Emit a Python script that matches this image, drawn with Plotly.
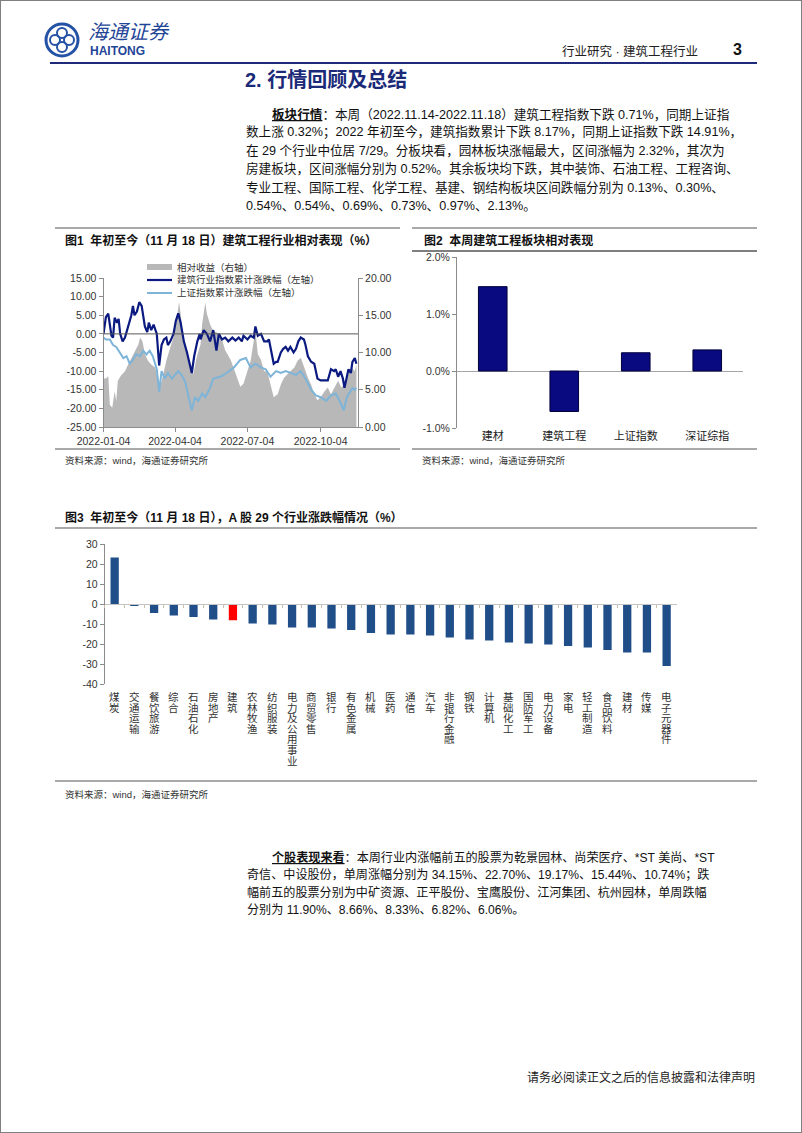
import pandas as pd
import plotly.graph_objects as go

W, H = 802, 1133


def X(px):
    return px / W


def Y(py):
    return 1 - py / H


FONT = "Liberation Sans, Noto Sans CJK SC, sans-serif"

# ---------------- 图1: 建筑工程行业相对表现 ----------------
start = pd.Timestamp("2022-01-04")
# day offsets from 2022-01-04
jz_days = [0, 3, 6, 8, 10, 12, 14, 17, 19, 21,
           24, 27, 31, 35, 37, 39, 42, 45, 48, 50,
           52, 55, 57, 60, 63, 67, 70, 73, 76, 79,
           81, 84, 88, 91, 94, 97, 101, 105, 108, 111,
           114, 118, 121, 122, 126, 130, 134, 138, 142, 145,
           149, 153, 157, 162, 166, 170, 174, 176, 181, 185,
           189, 191, 194, 198, 202, 206, 208, 211, 214, 217,
           219, 223, 226, 229, 232, 235, 239, 242, 245, 248,
           252, 254, 257, 261, 265, 269, 273, 278, 282, 286,
           290, 292, 295, 298, 301, 303, 306, 308, 311, 313,
           316, 318]
jz_vals = [0, 4.5, 5.4, 3, -0.5, -1, 4.3, 3, 4, 0,
           -2, -1, 2, 5, 7.5, 5, 6, 8.5, 7.5, 4,
           2, 0.5, 3, 1, 2.5, 0, -8.5, -3, -1.5, -1,
           -3, -2, 0, 3.5, 5.5, 3, -2, -5, -8, -10.5,
           -6, -2, 0, -1.5, 1, 0, -2, 1, -4.5, 0,
           -1.5, -1, -2, -1, -1.8, -1, -2, -0.5, -1.5, -0.5,
           -1, 2, -0.5, 0, -2, -2, -1.5, -5, -8, -7.5,
           -7.5, -5, -4, -3.5, -4.5, -3.5, -5, -4, -2, -1,
           -1.5, -3, -6, -7.5, -8, -12, -12.5, -12.5, -12.5, -9.5,
           -10, -9.5, -11.5, -10, -12, -14.5, -11, -9.5, -10.5, -7.5,
           -6.5, -8]

sz_days = [0, 3, 8, 12, 16, 20, 25, 29, 33, 37,
           41, 46, 50, 54, 58, 62, 67, 70, 73, 77,
           81, 86, 90, 94, 98, 103, 107, 111, 115, 119,
           124, 128, 134, 138, 147, 155, 164, 172, 179, 185,
           191, 198, 204, 210, 217, 223, 229, 235, 242, 248,
           254, 261, 267, 273, 280, 286, 292, 298, 302, 306,
           310, 313, 316, 318]
sz_vals = [-1, -1.5, -1.5, -3, -3.5, -5, -6.5, -6, -8, -7,
           -5.5, -6, -4.5, -5.5, -4.5, -6, -9.5, -15.5, -10, -12,
           -10.5, -12, -11, -10, -11, -13, -17, -20.5, -17, -18,
           -16, -17, -14.5, -12, -11.5, -10.5, -9, -7, -6.5, -9,
           -8, -9, -9.5, -11.5, -10, -10.5, -10, -10.5, -11, -10,
           -12, -15, -16.5, -17, -18, -16.5, -16, -18.5, -20.5, -17,
           -15.5, -14.5, -15, -14.5]

rel_days = [0, 3, 6, 8, 11, 14, 16, 18, 22, 27,
            31, 35, 39, 44, 46, 49, 52, 56, 60, 65,
            69, 71, 75, 79, 84, 88, 92, 95, 97, 100,
            105, 109, 113, 117, 122, 124, 126, 128, 130, 134,
            138, 147, 153, 160, 166, 172, 176, 181, 185, 189,
            191, 194, 198, 202, 206, 210, 214, 219, 223, 227,
            231, 235, 240, 244, 248, 252, 257, 261, 265, 269,
            273, 278, 282, 286, 290, 295, 299, 303, 308, 312,
            316, 318]
rel_vals = [6.5, 6.5, 6.8, 3, 2.6, 4.8, 3.5, 6.2, 6.9, 7.5,
            8.4, 9.3, 10.2, 11.1, 12, 11.5, 9.8, 8.9, 8.4, 8,
            6.2, 5.3, 7, 8.9, 10.7, 12, 14.3, 16.8, 15.2, 12,
            9.8, 8.4, 7.1, 9.3, 11.1, 13.8, 15.6, 16.7, 15.2, 13.8,
            12.9, 12.5, 10.3, 9, 7.2, 5.4, 5.8, 7.5, 8.9, 11.6,
            13, 9.8, 9, 7.5, 7.5, 5.7, 4, 4.4, 5.7, 6.6,
            7.1, 7.5, 8, 8.9, 9.3, 8, 6.6, 5.7, 4.4, 3.6,
            4, 4.8, 5.3, 4.4, 5.3, 6.2, 5.3, 5.7, 7.1, 8,
            7.5, 8.4]

fig1_xticks = ["2022-01-04", "2022-04-04", "2022-07-04", "2022-10-04"]
fig1_left_ticks = [15, 10, 5, 0, -5, -10, -15, -20, -25]
fig1_right_ticks = [20, 15, 10, 5, 0]
fig1_names = ["相对收益（右轴）", "建筑行业指数累计涨跌幅（左轴）", "上证指数累计涨跌幅（左轴）"]

# ---------------- 图2: 本周建筑工程板块相对表现 ----------------
fig2_cats = ["建材", "建筑工程", "上证指数", "深证综指"]
fig2_vals = [1.48, -0.71, 0.32, 0.37]
fig2_ticks = [2, 1, 0, -1]

# ---------------- 图3: A股29个行业涨跌幅 ----------------
fig3_cats = ["煤炭", "交通运输", "餐饮旅游", "综合", "石油石化", "房地产", "建筑",
             "农林牧渔", "纺织服装", "电力及公用事业", "商贸零售", "银行", "有色金属",
             "机械", "医药", "通信", "汽车", "非银行金融", "钢铁", "计算机", "基础化工",
             "国防军工", "电力设备", "家电", "轻工制造", "食品饮料", "建材", "传媒",
             "电子元器件"]
fig3_vals = [23.3, -1.0, -4.5, -5.8, -6.5, -7.7, -8.17, -9.8, -10.2, -11.7, -11.7,
             -12.2, -13.0, -14.5, -15.3, -15.3, -15.7, -16.7, -17.8, -18.2, -19.2,
             -19.8, -20.3, -21.0, -21.7, -23.0, -24.2, -24.2, -31.0]
fig3_highlight = "建筑"
fig3_ticks = [30, 20, 10, 0, -10, -20, -30, -40]

C_DARK = "#0B1A80"
C_LIGHT = "#7DB4D8"
C_GRAY = "#B8B8B8"
C_BAR2 = "#0A0A80"
C_BAR3 = "#1F4E89"
AXIS = "#8C8C8C"


def dates(days):
    return start + pd.to_timedelta(days, unit="D")


fig = go.Figure()

fig.add_trace(go.Scatter(x=dates(rel_days), y=rel_vals, xaxis="x", yaxis="y",
                         mode="lines", line=dict(width=0), fill="tozeroy",
                         fillcolor=C_GRAY, name=fig1_names[0], hoverinfo="skip"))
fig.add_trace(go.Scatter(x=dates(sz_days), y=sz_vals, xaxis="x", yaxis="y2",
                         mode="lines", line=dict(color=C_LIGHT, width=2), name=fig1_names[2]))
fig.add_trace(go.Scatter(x=dates(jz_days), y=jz_vals, xaxis="x", yaxis="y2",
                         mode="lines", line=dict(color=C_DARK, width=2.2), name=fig1_names[1]))

fig.add_trace(go.Bar(x=fig2_cats, y=fig2_vals, xaxis="x2", yaxis="y3", width=0.4,
                     marker=dict(color=C_BAR2, line=dict(color="#00003A", width=1))))

fig3_colors = ["#FF0000" if c == fig3_highlight else C_BAR3 for c in fig3_cats]
fig.add_trace(go.Bar(x=fig3_cats, y=fig3_vals, xaxis="x3", yaxis="y4", width=0.42,
                     marker=dict(color=fig3_colors, line=dict(width=0))))

annotations = []
shapes = []


def txt(x, y, s, size=13, color="#111", anchor="left", family=FONT):
    annotations.append(dict(x=X(x), y=Y(y), xref="paper", yref="paper", text=s,
                            showarrow=False, xanchor=anchor, yanchor="middle",
                            font=dict(size=size, color=color, family=family)))


def hline(x0, x1, y, color=AXIS, width=1.5):
    shapes.append(dict(type="line", xref="paper", yref="paper", x0=X(x0), x1=X(x1),
                       y0=Y(y), y1=Y(y), line=dict(color=color, width=width)))


# page frame
shapes.append(dict(type="rect", xref="paper", yref="paper", x0=0, x1=1, y0=0, y1=1,
                   line=dict(color="#7F7F7F", width=2)))

# header / logo
shapes.append(dict(type="circle", xref="paper", yref="paper", x0=X(46), x1=X(78),
                   y0=Y(56), y1=Y(24), line=dict(color="#2452A4", width=3)))
for cx, cy in [(62, 33), (55, 40), (69, 40), (62, 47)]:
    shapes.append(dict(type="circle", xref="paper", yref="paper", x0=X(cx - 5), x1=X(cx + 5),
                       y0=Y(cy + 5), y1=Y(cy - 5), line=dict(color="#2452A4", width=2)))
txt(86, 32, "<i>海通证券</i>", size=20, color="#1F4597")
txt(88, 51, "<b>HAITONG</b>", size=12, color="#1F4597")
txt(700, 51, "行业研究 · 建筑工程行业", size=12.5, color="#222", anchor="right")
txt(737, 49, "<b>3</b>", size=16, color="#111", anchor="center")
hline(50, 757, 63, color="#1F2A7A", width=2.2)
txt(243, 80, "<b>2. 行情回顾及总结</b>", size=20, color="#1B2A78")

para1 = ["<b><u>板块行情</u></b>：本周（2022.11.14-2022.11.18）建筑工程指数下跌 0.71%，同期上证指",
         "数上涨 0.32%；2022 年初至今，建筑指数累计下跌 8.17%，同期上证指数下跌 14.91%，",
         "在 29 个行业中位居 7/29。分板块看，园林板块涨幅最大，区间涨幅为 2.32%，其次为",
         "房建板块，区间涨幅分别为 0.52%。其余板块均下跌，其中装饰、石油工程、工程咨询、",
         "专业工程、国际工程、化学工程、基建、钢结构板块区间跌幅分别为 0.13%、0.30%、",
         "0.54%、0.54%、0.69%、0.73%、0.97%、2.13%。"]
for i, line in enumerate(para1):
    txt(270 if i == 0 else 244, 114 + 18.3 * i, line, size=12.6)

para2 = ["<b><u>个股表现来看</u></b>：本周行业内涨幅前五的股票为乾景园林、尚荣医疗、*ST 美尚、*ST",
         "奇信、中设股份，单周涨幅分别为 34.15%、22.70%、19.17%、15.44%、10.74%；跌",
         "幅前五的股票分别为中矿资源、正平股份、宝鹰股份、江河集团、杭州园林，单周跌幅",
         "分别为 11.90%、8.66%、8.33%、6.82%、6.06%。"]
for i, line in enumerate(para2):
    txt(270 if i == 0 else 245, 857 + 17.8 * i, line, size=12.1)

txt(757, 1077, "请务必阅读正文之后的信息披露和法律声明", size=12, color="#222", anchor="right")

# figure frames and titles
hline(55, 400, 228)
hline(55, 400, 449)
txt(63, 240, "<b>图1  年初至今（11 月 18 日）建筑工程行业相对表现（%）</b>", size=12)
txt(63, 460, "资料来源：wind，海通证券研究所", size=9.5, color="#333")

hline(412, 757, 228)
hline(412, 757, 251, color="#555", width=1.5)
hline(412, 757, 449)
txt(422, 240, "<b>图2  本周建筑工程板块相对表现</b>", size=12)
txt(420, 460, "资料来源：wind，海通证券研究所", size=9.5, color="#333")

hline(55, 757, 528)
hline(55, 757, 781)
txt(63, 517, "<b>图3  年初至今（11 月 18 日），A 股 29 个行业涨跌幅情况（%）</b>", size=12)
txt(63, 794, "资料来源：wind，海通证券研究所", size=9.5, color="#333")

# figure 1 legend (drawn by hand like the original)
shapes.append(dict(type="rect", xref="paper", yref="paper", x0=X(147), x1=X(172),
                   y0=Y(270), y1=Y(264), fillcolor=C_GRAY, line=dict(width=0)))
shapes.append(dict(type="line", xref="paper", yref="paper", x0=X(147), x1=X(172),
                   y0=Y(280), y1=Y(280), line=dict(color=C_DARK, width=2.2)))
shapes.append(dict(type="line", xref="paper", yref="paper", x0=X(147), x1=X(172),
                   y0=Y(293), y1=Y(293), line=dict(color=C_LIGHT, width=2)))
for i, name in enumerate(fig1_names):
    txt(175, 267 + 13 * i, name, size=9.5, color="#333")

# figure 1 zero line above the area fill
shapes.append(dict(type="line", xref="x domain", yref="y2", x0=0, x1=1, y0=0, y1=0,
                   line=dict(color="#595959", width=1), layer="above"))

# figure 3 vertical category labels, one character per row
for cat in fig3_cats:
    for j, ch in enumerate(cat):
        annotations.append(dict(x=cat, xref="x3", y=Y(697 + 10.6 * j), yref="paper",
                                text=ch, showarrow=False, xanchor="center", yanchor="middle",
                                font=dict(size=10.5, color="#333", family=FONT)))

ax_common = dict(showgrid=False, showline=True, linecolor=AXIS, linewidth=1,
                 ticks="outside", ticklen=4, tickcolor=AXIS, automargin=False,
                 tickfont=dict(size=10.5, color="#333", family=FONT))

f1_y0, f1_y1 = Y(427), Y(278)
f3_y0, f3_y1 = Y(684), Y(544)
f3_zero = f3_y0 + (0 - min(fig3_ticks)) / (max(fig3_ticks) - min(fig3_ticks)) * (f3_y1 - f3_y0)

fig.update_layout(
    width=W, height=H, margin=dict(l=0, r=0, t=0, b=0, autoexpand=False),
    paper_bgcolor="white", plot_bgcolor="rgba(0,0,0,0)",
    showlegend=False, font=dict(family=FONT, color="#111"),
    xaxis=dict(domain=[X(103.5), X(358)], anchor="y", type="date",
               range=[start, start + pd.Timedelta(days=320)],
               tickvals=fig1_xticks, ticktext=fig1_xticks, zeroline=False, **ax_common),
    yaxis=dict(domain=[f1_y0, f1_y1], anchor="x", side="right", range=[0, 20],
               tickvals=fig1_right_ticks, ticktext=[f"{v:.2f}" for v in fig1_right_ticks],
               zeroline=False, **ax_common),
    yaxis2=dict(overlaying="y", anchor="x", side="left", range=[-25, 15],
                tickvals=fig1_left_ticks, ticktext=[f"{v:.2f}" for v in fig1_left_ticks],
                zeroline=False, **ax_common),
    xaxis2=dict(domain=[X(457), X(743)], anchor="y3", type="category", showgrid=False,
                showline=False, ticks="", automargin=False,
                tickfont=dict(size=11, color="#222", family=FONT)),
    yaxis3=dict(domain=[Y(428), Y(257)], anchor="x2", range=[-1, 2],
                tickvals=fig2_ticks, ticktext=[f"{v:.1f}%" for v in fig2_ticks],
                zeroline=True, zerolinecolor="#A6A6A6", zerolinewidth=1, **ax_common),
    xaxis3=dict(domain=[X(104.8), X(676.5)], anchor="free", position=f3_zero,
                type="category", showgrid=False, showline=True, linecolor="#C4C4C4",
                ticks="outside", tickson="boundaries", ticklen=3, tickcolor="#C9BFAE",
                showticklabels=False, zeroline=False, automargin=False),
    yaxis4=dict(domain=[f3_y0, f3_y1], anchor="x3", range=[-40, 30],
                tickvals=fig3_ticks, ticktext=[str(v) for v in fig3_ticks],
                zeroline=False, **ax_common),
    annotations=annotations,
    shapes=shapes,
)

fig.write_html("out.html", config={"displayModeBar": False},
               post_script="document.body.style.margin='0';")
